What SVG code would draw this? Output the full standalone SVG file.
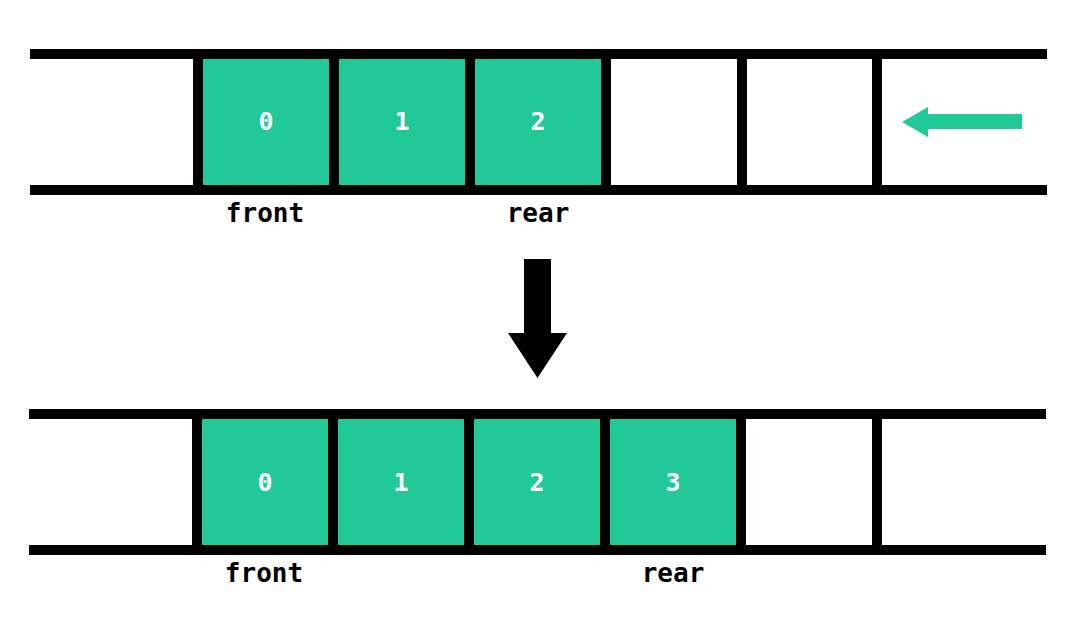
<svg xmlns="http://www.w3.org/2000/svg" width="1083" height="629" viewBox="0 0 1083 629">
<style>
.bar{fill:#000}
.cell{fill:#20C997}
.num{font-family:"DejaVu Sans Mono",monospace;font-weight:bold;font-size:25px;fill:#fff;text-anchor:middle}
.lbl{font-family:"DejaVu Sans Mono",monospace;font-weight:bold;font-size:26px;fill:#000;text-anchor:middle}
</style>
<rect width="1083" height="629" fill="#fff"/>
<g id="queue-before">
<rect class="bar" x="30" y="49" width="1017" height="10"/>
<rect class="bar" x="30" y="185" width="1017" height="10"/>
<rect class="bar" x="193" y="59" width="10" height="126"/>
<rect class="bar" x="329" y="59" width="10" height="126"/>
<rect class="bar" x="465" y="59" width="10" height="126"/>
<rect class="bar" x="601" y="59" width="10" height="126"/>
<rect class="bar" x="737" y="59" width="10" height="126"/>
<rect class="bar" x="872" y="59" width="10" height="126"/>
</g>
<g id="b0"><rect class="cell" x="203" y="59" width="126" height="126"/><text class="num" x="266" y="130">0</text></g>
<g id="b1"><rect class="cell" x="339" y="59" width="126" height="126"/><text class="num" x="402" y="130">1</text></g>
<g id="b2"><rect class="cell" x="475" y="59" width="126" height="126"/><text class="num" x="538" y="130">2</text></g>
<text class="lbl" x="265" y="222">front</text>
<text class="lbl" x="538" y="222">rear</text>
<g id="queue-after">
<rect class="bar" x="29" y="409" width="1017" height="10"/>
<rect class="bar" x="29" y="545" width="1017" height="10"/>
<rect class="bar" x="192" y="419" width="10" height="126"/>
<rect class="bar" x="328" y="419" width="10" height="126"/>
<rect class="bar" x="464" y="419" width="10" height="126"/>
<rect class="bar" x="600" y="419" width="10" height="126"/>
<rect class="bar" x="736" y="419" width="10" height="126"/>
<rect class="bar" x="872" y="419" width="10" height="126"/>
</g>
<g id="a0"><rect class="cell" x="202" y="419" width="126" height="126"/><text class="num" x="265" y="491">0</text></g>
<g id="a1"><rect class="cell" x="338" y="419" width="126" height="126"/><text class="num" x="401" y="491">1</text></g>
<g id="a2"><rect class="cell" x="474" y="419" width="126" height="126"/><text class="num" x="537" y="491">2</text></g>
<g id="a3"><rect class="cell" x="610" y="419" width="126" height="126"/><text class="num" x="673" y="491">3</text></g>
<text class="lbl" x="264" y="582">front</text>
<text class="lbl" x="673" y="582">rear</text>
<g id="connectors">
<polygon fill="#20C997" points="902,122 928,107 928,114 1022,114 1022,129 928,129 928,137"/>
<polygon fill="#000" points="524,259 551,259 551,333 567,333 537.5,378 508,333 524,333"/>
</g>
</svg>
